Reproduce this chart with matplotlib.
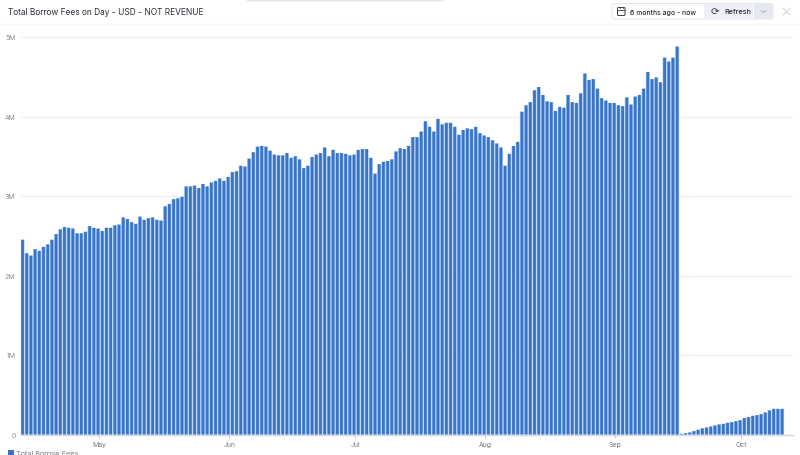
import matplotlib
matplotlib.use('Agg')
import matplotlib.pyplot as plt
from matplotlib.patches import FancyBboxPatch, Rectangle

plt.rcParams['font.family'] = ['Inter', 'DejaVu Sans']

# daily fees in millions USD
fees_apr_may = [2.45, 2.28, 2.25, 2.33, 2.31, 2.36, 2.39, 2.45, 2.52, 2.58, 2.61, 2.60, 2.59, 2.53, 2.53, 2.55,
                2.62, 2.60, 2.59, 2.56, 2.60, 2.60, 2.63, 2.64, 2.73, 2.71, 2.67, 2.65, 2.74, 2.70, 2.72, 2.73,
                2.70, 2.69, 2.87, 2.90, 2.96, 2.97, 2.99, 3.12, 3.12, 3.13, 3.10, 3.15, 3.12, 3.17, 3.19, 3.22,
                3.19, 3.24]
fees_jun_jul = [3.30, 3.31, 3.38, 3.37, 3.47, 3.55, 3.62, 3.63, 3.62, 3.57, 3.52, 3.51, 3.51, 3.54, 3.48, 3.50,
                3.46, 3.35, 3.38, 3.49, 3.52, 3.54, 3.61, 3.50, 3.58, 3.54, 3.54, 3.53, 3.51, 3.52, 3.58, 3.59,
                3.59, 3.48, 3.28, 3.40, 3.43, 3.44, 3.46, 3.56, 3.60, 3.59, 3.63, 3.74, 3.74, 3.81, 3.94, 3.87,
                3.81, 3.97, 3.90, 3.92, 3.92, 3.87, 3.77]
fees_aug_sep = [3.83, 3.85, 3.84, 3.87, 3.79, 3.76, 3.74, 3.70, 3.66, 3.61, 3.38, 3.53, 3.63, 3.68, 4.06, 4.14,
                4.18, 4.33, 4.37, 4.27, 4.19, 4.18, 4.07, 4.12, 4.11, 4.27, 4.18, 4.17, 4.29, 4.54, 4.46, 4.47,
                4.35, 4.23, 4.20, 4.17, 4.17, 4.14, 4.13, 4.24, 4.15, 4.25, 4.27, 4.35, 4.56, 4.47, 4.49, 4.43,
                4.74, 4.69, 4.74, 4.88]
fees_sep_oct = [0.008, 0.017, 0.025, 0.042, 0.059, 0.076, 0.088, 0.10, 0.113, 0.126, 0.134, 0.147, 0.155,
                0.168, 0.18, 0.206, 0.218, 0.235, 0.243, 0.256, 0.277, 0.302, 0.323, 0.323, 0.323]

month_names = ['May', 'Jun', 'Jul', 'Aug', 'Sep', 'Oct']
month_starts = [18, 49, 79, 110, 141, 171]
y_ticks = [0, 1, 2, 3, 4, 5]
y_labels = ['0', '1M', '2M', '3M', '4M', '5M']

fees = fees_apr_may + fees_jun_jul + fees_aug_sep + fees_sep_oct
days = list(range(len(fees)))

fig = plt.figure(figsize=(8, 4.56), dpi=100)

# chart area in page pixels
ax = fig.add_axes([21 / 800, (456 - 435.5) / 456, 772 / 800, 397.5 / 456])
ax.bar(days, fees, width=0.98, color='#a8cdf6', linewidth=0, zorder=2, snap=False)
ax.bar(days, fees, width=0.66, color='#3b73c5', linewidth=0, zorder=3, snap=False)
ax.set_xlim(-0.36, 183.6)
ax.set_ylim(0, 5)
ax.set_yticks(y_ticks)
ax.set_yticklabels(y_labels, fontsize=5, color='#8c8c8c')
ax.set_xticks([m + 0.3 for m in month_starts])
ax.set_xticklabels(month_names, fontsize=5, color='#7a7a7a')
ax.tick_params(axis='y', length=0, pad=4)
ax.tick_params(axis='x', length=2.5, width=0.5, color='#b5b8bd', pad=2)
ax.grid(True, axis='y', color='#efeff1', linewidth=0.8, zorder=0)
ax.set_axisbelow(True)
for s in ['top', 'left', 'right']:
    ax.spines[s].set_visible(False)
ax.spines['bottom'].set_color('#d5d6d9')
ax.spines['bottom'].set_linewidth(1)

# page furniture (title, buttons, legend) in pixel coordinates
ui = fig.add_axes([0, 0, 1, 1], zorder=5)
ui.set_xlim(0, 800)
ui.set_ylim(456, 0)
ui.axis('off')
ui.patch.set_alpha(0)

ui.text(8, 12.5, 'Total Borrow Fees on Day - USD - NOT REVENUE', fontsize=6.03, color='#2b2f36', va='center')
ui.plot([0, 800], [24.5, 24.5], color='#f6f6f8', lw=0.8)

# shadow of a popup cut off by the top edge
for i, c in enumerate(['#f7f7f7', '#eeeeee', '#e2e2e2', '#d6d6d6']):
    ui.add_patch(Rectangle((246 + i, 0), 198 - 2 * i, 3.2 - 0.8 * i, color=c, lw=0))

ui.add_patch(FancyBboxPatch((612, 4.5), 161, 15.5, boxstyle='round,pad=0,rounding_size=2.5',
                            fc='#ffffff', ec='#e3e5ea', lw=0.7))
ui.add_patch(Rectangle((704, 5), 49, 14.5, color='#eef0f5', lw=0))
ui.add_patch(Rectangle((753.5, 5), 19, 14.5, color='#e6e9f0', lw=0))
ui.add_patch(FancyBboxPatch((617.5, 8.5), 7.5, 8, boxstyle='round,pad=0,rounding_size=1',
                            fc='none', ec='#3a3e46', lw=0.7))
ui.plot([617.5, 625], [10.8, 10.8], color='#3a3e46', lw=0.6)
ui.plot([619.5, 619.5], [7.5, 9], color='#3a3e46', lw=0.6)
ui.plot([623, 623], [7.5, 9], color='#3a3e46', lw=0.6)
ui.text(630, 12.5, '6 months ago - now', fontsize=4.95, color='#2b2f36', va='center', fontweight='medium')
ui.text(714.5, 12.5, '\u27f3', fontsize=7.5, color='#3a3e46', va='center', ha='center', family=['DejaVu Sans'])
ui.text(724, 12.5, 'Refresh', fontsize=5.2, color='#2b2f36', va='center', fontweight='medium')
ui.plot([761, 763.5, 766], [11.5, 13.5, 11.5], color='#a5a9b3', lw=0.6)
ui.plot([783, 790], [9, 16], color='#d0d2d6', lw=0.7)
ui.plot([783, 790], [16, 9], color='#d0d2d6', lw=0.7)

ui.add_patch(Rectangle((7.5, 451.5), 6.5, 5, color='#3b73c5', lw=0))
ui.text(15.5, 454.5, 'Total Borrow Fees', fontsize=5.2, color='#777c85', va='center')

fig.savefig('out.png', dpi=100)
